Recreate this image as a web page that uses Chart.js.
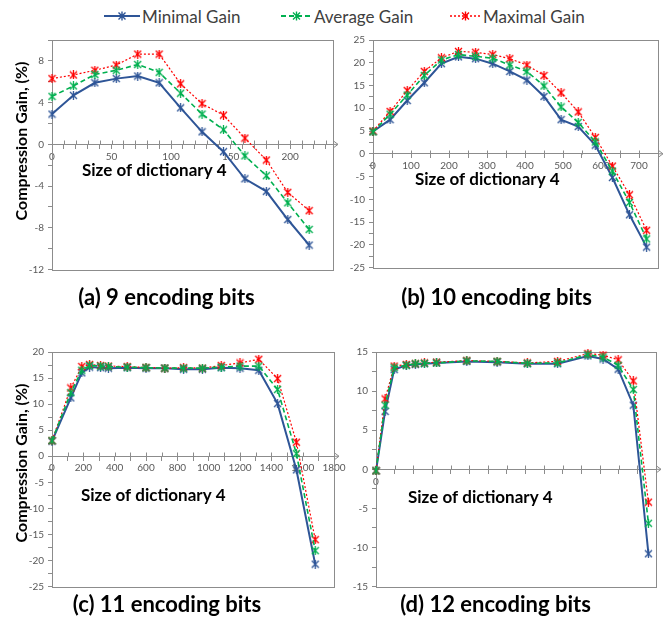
<!DOCTYPE html>
<html><head><meta charset="utf-8">
<script src="https://cdn.jsdelivr.net/npm/chart.js@4.4.0/dist/chart.umd.min.js"></script>
<style>
html,body{margin:0;padding:0;background:#fff;}
#wrap{position:relative;width:665px;height:635px;overflow:hidden;font-family:Lato,sans-serif;background:#fff;}
.box{position:absolute;}
.box canvas{display:block;}
.leg{position:absolute;top:5px;height:22px;display:flex;align-items:center;font-size:17px;color:#404040;white-space:nowrap;}
.leg svg{margin-right:2px;}
</style></head><body>
<div id="wrap">
  <div class="leg" style="left:104px"><svg width="36" height="14"><line x1="0" y1="7" x2="36" y2="7" stroke="#2E5597" stroke-width="2"/><path d="M14.5 3.5L21.5 10.5M21.5 3.5L14.5 10.5M18 2.5L18 11.5" stroke="#2E5597" stroke-width="1.4"/></svg><span>Minimal Gain</span></div>
  <div class="leg" style="left:281px"><svg width="31" height="14"><line x1="0" y1="7" x2="31" y2="7" stroke="#00B050" stroke-width="1.8" stroke-dasharray="5,3"/><path d="M12 3.5L19 10.5M19 3.5L12 10.5M15.5 2.5L15.5 11.5" stroke="#00B050" stroke-width="1.4"/></svg><span>Average Gain</span></div>
  <div class="leg" style="left:450px"><svg width="31" height="14"><line x1="0" y1="7" x2="31" y2="7" stroke="#FF0000" stroke-width="1.4" stroke-dasharray="2,2"/><path d="M12 3.5L19 10.5M19 3.5L12 10.5M15.5 2.5L15.5 11.5" stroke="#FF0000" stroke-width="1.4"/></svg><span>Maximal Gain</span></div>
  <div class="box" style="left:0;top:30px"><canvas id="cA" width="345" height="290"></canvas></div>
  <div class="box" style="left:335px;top:30px"><canvas id="cB" width="330" height="290"></canvas></div>
  <div class="box" style="left:335px;top:340px"><canvas id="cD" width="330" height="282"></canvas></div>
  <div class="box" style="left:0;top:340px"><canvas id="cC" width="352" height="282"></canvas></div>
</div>
<script>
// ---- data ----
const seriesNames = ['Minimal Gain', 'Average Gain', 'Maximal Gain'];

const sizesA = [0, 18, 36, 54, 72, 90, 108, 126, 144, 162, 180, 198, 216];
const minA = [2.9, 4.7, 5.9, 6.3, 6.55, 5.9, 3.5, 1.2, -0.7, -3.3, -4.5, -7.2, -9.65];
const avgA = [4.6, 5.6, 6.7, 7.1, 7.65, 6.9, 4.9, 2.9, 1.4, -1.1, -3.0, -5.6, -8.15];
const maxA = [6.3, 6.65, 7.1, 7.6, 8.65, 8.65, 5.8, 3.9, 2.8, 0.6, -1.5, -4.6, -6.35];

const sizesB = [0, 45, 90, 135, 180, 225, 270, 315, 360, 405, 450, 495, 540, 585, 630, 675, 720];
const minB = [4.9, 7.5, 11.7, 15.6, 19.8, 21.3, 20.9, 19.8, 18.1, 16.2, 12.6, 7.5, 6.0, 1.9, -5.2, -13.4, -20.5];
const avgB = [4.8, 8.7, 12.9, 17.2, 20.6, 21.8, 21.4, 21.0, 19.5, 18.1, 14.9, 10.3, 6.9, 2.6, -3.8, -10.7, -18.7];
const maxB = [5.0, 9.3, 13.9, 18.1, 21.1, 22.5, 22.3, 21.8, 20.9, 19.5, 17.2, 13.4, 9.2, 3.6, -2.7, -9.0, -16.8];

const sizesC = [0, 120, 190, 240, 310, 360, 480, 600, 720, 840, 960, 1080, 1200, 1320, 1440, 1560, 1680];
const minC = [2.9, 11.2, 16.0, 17.1, 17.0, 16.9, 17.0, 16.9, 16.9, 16.7, 16.7, 17.0, 16.9, 16.5, 10.1, -2.6, -20.7];
const avgC = [3.0, 12.2, 16.5, 17.4, 17.3, 17.2, 17.1, 17.0, 16.9, 16.9, 16.9, 17.1, 17.3, 17.3, 12.8, 0.5, -18.1];
const maxC = [3.0, 13.1, 17.2, 17.6, 17.4, 17.3, 17.2, 17.05, 16.9, 17.0, 16.9, 17.4, 17.9, 18.6, 14.9, 2.7, -16.0];

const sizesD = [0, 120, 240, 400, 520, 640, 800, 1200, 1600, 2000, 2400, 2800, 3000, 3200, 3400, 3600];
const minD = [-0.2, 7.4, 12.75, 13.3, 13.4, 13.5, 13.6, 13.8, 13.7, 13.5, 13.5, 14.5, 14.1, 12.8, 8.2, -10.8];
const avgD = [-0.2, 8.2, 13.0, 13.3, 13.5, 13.55, 13.6, 13.85, 13.8, 13.55, 13.6, 14.65, 14.35, 13.3, 10.2, -6.9];
const maxD = [-0.2, 9.0, 13.2, 13.4, 13.5, 13.6, 13.7, 13.9, 13.8, 13.6, 13.8, 14.8, 14.6, 14.0, 11.3, -4.2];

const panelTitles = ['(a) 9 encoding bits', '(b) 10 encoding bits', '(c) 11 encoding bits', '(d) 12 encoding bits'];
const xAxisTitle = 'Size of dictionary 4';
const yAxisTitle = 'Compression Gain, (%)';

// ---- styling ----
const COLORS = ['#2E5597', '#00B050', '#FF0000'];
const AXIS = '#8c8c8c';
const TICKC = '#595959';
const FONT = 'Lato, sans-serif';

function makeMarker(color) {
  const c = document.createElement('canvas');
  c.width = 9; c.height = 9;
  const g = c.getContext('2d');
  g.strokeStyle = color; g.lineWidth = 1.3;
  g.beginPath();
  g.moveTo(1, 1); g.lineTo(8, 8);
  g.moveTo(8, 1); g.lineTo(1, 8);
  g.moveTo(4.5, 0); g.lineTo(4.5, 9);
  g.stroke();
  return c;
}
const markers = COLORS.map(makeMarker);

const decor = {
  id: 'decor',
  beforeDatasetsDraw(chart) {
    const {ctx, chartArea: a, scales: {x, y}} = chart;
    ctx.save();
    ctx.strokeStyle = AXIS; ctx.lineWidth = 1;
    ctx.strokeRect(Math.round(a.left) + 0.5, Math.round(a.top) + 0.5, Math.round(a.right - a.left), Math.round(a.bottom - a.top));
    // upper half of cross tick marks on the x axis
    const y0 = Math.round(y.getPixelForValue(0)) + 0.5;
    ctx.beginPath();
    x.ticks.forEach(t => {
      const px = Math.round(x.getPixelForValue(t.value)) + 0.5;
      ctx.moveTo(px, y0 - 4); ctx.lineTo(px, y0);
    });
    ctx.stroke();
    ctx.restore();
  },
  afterDraw(chart, args, o) {
    const {ctx, chartArea: a, scales: {y}} = chart;
    const y0 = y.getPixelForValue(0);
    ctx.save();
    ctx.strokeStyle = AXIS; ctx.lineWidth = 1;
    ctx.beginPath();
    ctx.moveTo(a.right, y0); ctx.lineTo(a.right + 5, y0);
    ctx.moveTo(a.right + 1, y0 - 3); ctx.lineTo(a.right + 5, y0); ctx.lineTo(a.right + 1, y0 + 3);
    ctx.stroke();
    ctx.fillStyle = '#000';
    ctx.font = 'bold 17px ' + FONT;
    ctx.textAlign = 'left'; ctx.textBaseline = 'middle';
    ctx.fillText(o.xText, a.left + o.xdx, y0 + o.xdy);
    if (o.yText) {
      ctx.translate(o.yx, a.top + o.ydy);
      ctx.rotate(-Math.PI / 2);
      ctx.font = 'bold 16px ' + FONT;
      ctx.textAlign = 'center';
      ctx.fillText(o.yText, 0, 0);
    }
    ctx.restore();
  }
};

function build(id, p) {
  const ds = [p.min, p.avg, p.max].map((vals, i) => ({
    label: seriesNames[i],
    data: p.sizes.map((s, k) => ({x: s, y: vals[k]})),
    borderColor: COLORS[i],
    backgroundColor: COLORS[i],
    borderWidth: [2, 1.6, 1.2][i],
    borderDash: [[], [5, 3], [2, 2]][i],
    pointStyle: markers[i],
    pointRadius: 4,
    showLine: true,
    tension: 0,
    clip: false,
    order: [2, 0, 1][i]
  }));
  const tickFont = {family: FONT, size: 10};
  return new Chart(document.getElementById(id), {
    type: 'scatter',
    data: {datasets: ds},
    options: {
      responsive: false, animation: false, devicePixelRatio: 1,
      layout: {padding: p.pad},
      plugins: {
        legend: {display: false}, tooltip: {enabled: false},
        title: {display: true, position: 'bottom', text: p.title, color: '#000',
          font: {family: FONT, size: 22, weight: 'bold'}, padding: p.tpad},
        decor: {xText: xAxisTitle, xdx: p.xdx, xdy: p.xdy, yText: p.yTitle ? yAxisTitle : null, yx: 22, ydy: p.ydy}
      },
      scales: {
        x: {
          type: 'linear', min: 0, max: p.xMax, position: {y: 0},
          ticks: {stepSize: p.xMinor, autoSkip: false, maxRotation: 0, includeBounds: false, padding: 2,
            font: tickFont, color: TICKC,
            callback: v => (Math.abs(v % p.xMajor) < 1e-6 ? String(v) : '')},
          grid: {drawOnChartArea: false, tickLength: 4, color: AXIS},
          border: {display: true, color: AXIS}
        },
        y: {
          type: 'linear', min: p.yMin, max: p.yMax,
          afterFit: s => { s.width = p.yW; },
          ticks: {stepSize: p.yMinor, autoSkip: false, includeBounds: false, padding: 4,
            font: tickFont, color: TICKC,
            callback: v => (Math.abs(v % p.yMajor) < 1e-6 ? String(v) : '')},
          grid: {drawOnChartArea: false, tickLength: 4, color: AXIS},
          border: {display: false}
        }
      }
    },
    plugins: [decor]
  });
}

build('cA', {sizes: sizesA, min: minA, avg: avgA, max: maxA, title: panelTitles[0],
  xMax: 236, xMinor: 10, xMajor: 50, yMin: -12, yMax: 10, yMinor: 2, yMajor: 4, yW: 52,
  pad: {left: 0, right: 12, top: 5, bottom: 0}, tpad: {top: 15, bottom: 9},
  xdx: 30, xdy: 26, yTitle: true, ydy: 101});
build('cB', {sizes: sizesB, min: minB, avg: avgB, max: maxB, title: panelTitles[1],
  xMax: 750, xMinor: 50, xMajor: 100, yMin: -25, yMax: 25, yMinor: 2.5, yMajor: 5, yW: 38,
  pad: {left: 0, right: 7, top: 5, bottom: 0}, tpad: {top: 17, bottom: 9},
  xdx: 42, xdy: 26, yTitle: false});
build('cD', {sizes: sizesD, min: minD, avg: avgD, max: maxD, title: panelTitles[3],
  xMax: 3700, xMinor: 250, xMajor: 500, yMin: -15, yMax: 15, yMinor: 2.5, yMajor: 5, yW: 41,
  pad: {left: 0, right: 9, top: 12, bottom: 0}, tpad: {top: 5, bottom: 4},
  xdx: 32, xdy: 28, yTitle: false});
build('cC', {sizes: sizesC, min: minC, avg: avgC, max: maxC, title: panelTitles[2],
  xMax: 1800, xMinor: 100, xMajor: 200, yMin: -25, yMax: 20, yMinor: 2.5, yMajor: 5, yW: 52,
  pad: {left: 0, right: 18, top: 12, bottom: 0}, tpad: {top: 5, bottom: 4},
  xdx: 29, xdy: 39, yTitle: true, ydy: 111});
</script>
</body></html>
